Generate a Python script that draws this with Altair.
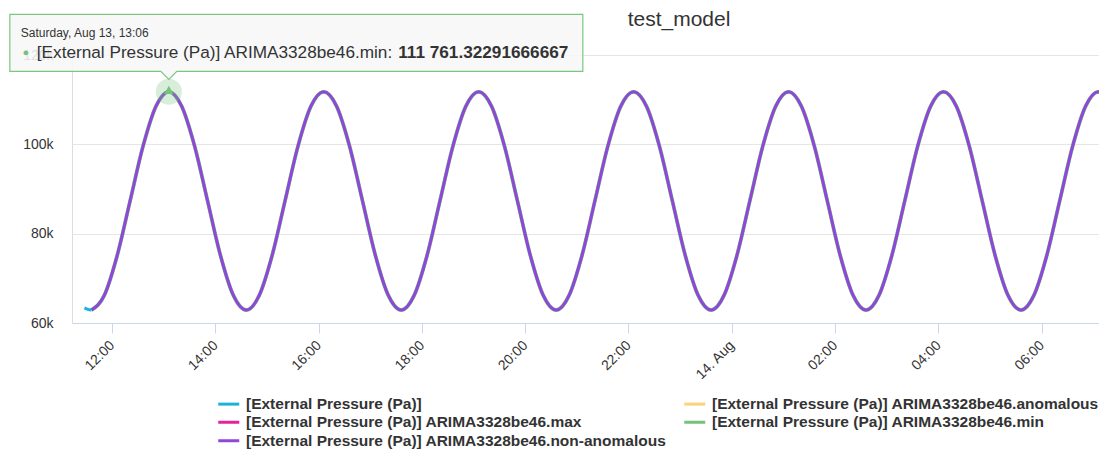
import altair as alt
import pandas as pd

FONT = "Liberation Sans"

# ---------------- data ----------------
series_names = [
    "[External Pressure (Pa)]",
    "[External Pressure (Pa)] ARIMA3328be46.anomalous",
    "[External Pressure (Pa)] ARIMA3328be46.max",
    "[External Pressure (Pa)] ARIMA3328be46.min",
    "[External Pressure (Pa)] ARIMA3328be46.non-anomalous",
]
series_colors = ["#1cb2da", "#fdd27b", "#e3239b", "#74c37c", "#8f46d9"]
# legend grid is filled column by column: raw, max, non-anomalous | anomalous, min
legend_order = [0, 2, 4, 1, 3]

raw_times = ["2022-08-13T11:28:00", "2022-08-13T11:32:00", "2022-08-13T11:36:00"]
raw_values = [63400, 63050, 62900]

model_start = "2022-08-13 11:36:00"
model_step = "15min"
model_values = [
    62900, 66173, 75115, 87330, 99546, 108488, 111761, 108488, 99546, 87330, 75115, 66173,
    62900, 66173, 75115, 87330, 99546, 108488, 111761, 108488, 99546, 87330, 75115, 66173,
    62900, 66173, 75115, 87330, 99546, 108488, 111761, 108488, 99546, 87330, 75115, 66173,
    62900, 66173, 75115, 87330, 99546, 108488, 111761, 108488, 99546, 87330, 75115, 66173,
    62900, 66173, 75115, 87330, 99546, 108488, 111761, 108488, 99546, 87330, 75115, 66173,
    62900, 66173, 75115, 87330, 99546, 108488, 111761, 108488, 99546, 87330, 75115, 66173,
    62900, 66173, 75115, 87330, 99546, 108488, 111761, 108488, 99546,
]

peak_time = "2022-08-13T13:06:00"
peak_value = 111761.32291666667
tooltip_header = "Saturday, Aug 13, 13:06"
tooltip_label = "[External Pressure (Pa)] ARIMA3328be46.min: "
tooltip_number = "111 761.32291666667"
title_text = "test_model"

y_ticks = [60000, 80000, 100000, 120000]
x_tick_hours = [(13, 12), (13, 14), (13, 16), (13, 18), (13, 20), (13, 22),
                (14, 0), (14, 2), (14, 4), (14, 6)]

# ---------------- frames ----------------
model_times = pd.date_range(model_start, periods=len(model_values), freq=model_step)
model_iso = [t.strftime("%Y-%m-%dT%H:%M:%S") for t in model_times]

df_raw = pd.DataFrame({"time": raw_times, "value": raw_values, "series": series_names[0]})
df_min = pd.DataFrame({"time": model_iso, "value": model_values, "series": series_names[3]})
df_non = pd.DataFrame({"time": model_iso, "value": model_values, "series": series_names[4]})
df_peak = pd.DataFrame({"time": [peak_time], "value": [peak_value]})

W, H = 1027, 268

x_scale = alt.Scale(
    domain=[alt.DateTime(year=2022, month=8, date=13, hours=11, minutes=13, seconds=30),
            alt.DateTime(year=2022, month=8, date=14, hours=7, minutes=6, seconds=40)],
    nice=False,
)
y_scale = alt.Scale(domain=[60000, 120000], nice=False, zero=False)

x_axis = alt.Axis(
    title=None,
    values=[alt.DateTime(year=2022, month=8, date=d, hours=h) for d, h in x_tick_hours],
    labelExpr="hours(datum.value) == 0 ? timeFormat(datum.value, '%-d. %b') : timeFormat(datum.value, '%H:%M')",
    labelAngle=-45, labelAlign="right", labelBaseline="middle",
    labelFont=FONT, labelFontSize=14, labelColor="#333333", labelPadding=10,
    tickColor="#ccd6eb", tickSize=10, tickWidth=1,
    domainColor="#ccd6eb", domainWidth=1, grid=False, labelOverlap=False,
)
y_axis = alt.Axis(
    title=None, values=y_ticks, format="~s",
    labelFont=FONT, labelFontSize=14, labelColor="#333333", labelPadding=19,
    domain=False, ticks=False, grid=True, gridColor="#e6e6e6", gridWidth=1,
)

color_scale = alt.Scale(
    domain=[series_names[i] for i in legend_order],
    range=[series_colors[i] for i in legend_order],
)
legend = alt.Legend(
    title=None, orient="none", legendX=149, legendY=341, columns=2,
    columnPadding=11, rowPadding=1.5, padding=0,
    symbolType="M -2.1 0 L 2.1 0", symbolSize=100, symbolStrokeWidth=3, symbolOpacity=1,
    labelFont=FONT, labelFontSize=15.5, labelFontWeight="bold", labelColor="#333333",
    labelLimit=1000, labelOffset=9.5,
)

X = alt.X("time:T", scale=x_scale, axis=x_axis)
Y = alt.Y("value:Q", scale=y_scale, axis=y_axis)
C = alt.Color("series:N", scale=color_scale, legend=legend)

line_min = alt.Chart(df_min).mark_line(strokeWidth=3.8, interpolate="monotone", clip=True).encode(x=X, y=Y, color=C)
line_non = alt.Chart(df_non).mark_line(strokeWidth=3, interpolate="monotone", clip=True).encode(x=X, y=Y, color=C)
line_raw = alt.Chart(df_raw).mark_line(strokeWidth=3, interpolate="monotone", clip=True).encode(x=X, y=Y, color=C)

halo = alt.Chart(df_peak).mark_point(
    shape="circle", size=680, filled=True, fill="#74c37c", fillOpacity=0.28, strokeWidth=0
).encode(x=X, y=Y)
marker = alt.Chart(df_peak).mark_point(
    shape="triangle-up", size=90, filled=True, fill="#74c37c", fillOpacity=1, strokeWidth=0, yOffset=-2
).encode(x=X, y=Y)

# callout shape: arrow tip at origin, box above it (pixel geometry scaled by r)
r = 414.0
left, right, top, bottom, half = -159.0, 414.0, -65.0, -8.0, 8.0
pts = [(left, top), (right, top), (right, bottom), (half, bottom), (0, 0), (-half, bottom), (left, bottom)]
callout_path = "M " + " L ".join(f"{px / r:.5f} {py / r:.5f}" for px, py in pts) + " Z"
callout = alt.Chart(df_peak).mark_point(
    shape=callout_path, size=(2 * r) ** 2, filled=True, fill="#f7f7f7", fillOpacity=0.88,
    stroke="#7cc67f", strokeWidth=1.2, opacity=1, yOffset=-12.5,
).encode(x=X, y=Y)

BODY_FS = 17.2
header = alt.Chart(df_peak).mark_text(
    text=tooltip_header, font=FONT, fontSize=12, color="#333333", align="left",
    baseline="middle", dx=-148, dy=-58.5,
).encode(x=X, y=Y)
bullet = alt.Chart(df_peak).mark_text(
    text="\u25cf", font=FONT, fontSize=11, color="#74c37c", align="center",
    baseline="middle", dx=-143, dy=-38.5,
).encode(x=X, y=Y)
body = alt.Chart(df_peak).mark_text(
    text=tooltip_label, font=FONT, fontSize=BODY_FS, color="#333333", align="left",
    baseline="middle", dx=-132, dy=-38.5,
).encode(x=X, y=Y)
number = alt.Chart(df_peak).mark_text(
    text=tooltip_number, font=FONT, fontSize=BODY_FS, fontWeight="bold", color="#333333",
    align="left", baseline="middle", dx=-132 + 21.008 * BODY_FS, dy=-38.5,
).encode(x=X, y=Y)

title = alt.Chart(df_peak).mark_text(
    text=title_text, font=FONT, fontSize=21, color="#333333", align="center", baseline="middle",
).encode(x=alt.value(607), y=alt.value(-35))

chart = alt.layer(
    line_min, line_non, line_raw, halo, marker, callout, header, bullet, body, number, title
).properties(
    width=W, height=H,
    autosize=alt.AutoSizeParams(type="none"),
    padding={"left": 64, "top": 47, "right": 0, "bottom": 126},
).configure_view(stroke=None).configure(font=FONT)

chart.save("out.html", embed_options={"renderer": "svg", "actions": False})
